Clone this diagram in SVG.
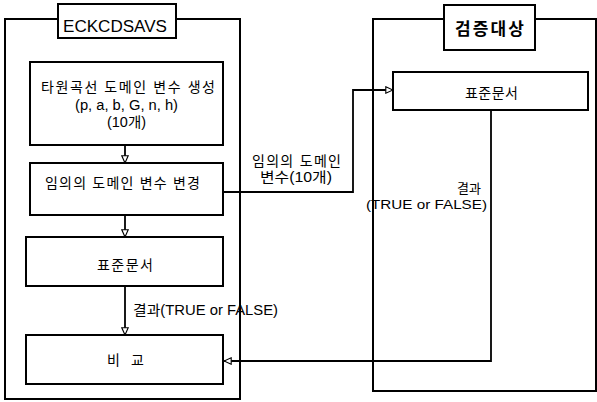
<svg xmlns="http://www.w3.org/2000/svg" width="597" height="402" viewBox="0 0 597 402">
<defs>
<style>
.box{fill:#fff;stroke:#000;stroke-width:2}
.cont{fill:none;stroke:#000;stroke-width:2}
.ln{fill:none;stroke:#000;stroke-width:1.8}
text{font-family:"Liberation Sans","Noto Sans CJK KR",sans-serif;font-size:14px;fill:#000}
.s{font-size:13px}
.t{font-size:16px}
.tb{font-size:17px;font-weight:bold}
</style>
<marker id="arr" viewBox="0 0 10 10" refX="10" refY="5" markerWidth="8" markerHeight="8" markerUnits="userSpaceOnUse" orient="auto">
<path d="M1,1 L10,5 L1,9 Z" fill="#fff" stroke="#000" stroke-width="1.4"/>
</marker>
</defs>
<rect width="597" height="402" fill="#fff"/>
<g id="left-container">
<rect class="cont" x="5" y="19" width="235" height="380"/>
</g>
<g id="right-container">
<rect class="cont" x="373" y="19" width="223" height="372"/>
</g>
<g id="connectors">
<path class="ln" d="M125,145 V163" marker-end="url(#arr)"/>
<path class="ln" d="M125,215 V237" marker-end="url(#arr)"/>
<path class="ln" d="M125,286 V335" marker-end="url(#arr)"/>
<path class="ln" d="M223,192 H353 V90 H393" marker-end="url(#arr)"/>
<path class="ln" d="M491,110 V361 H224" marker-end="url(#arr)"/>
<text x="133" y="315" textLength="145" lengthAdjust="spacingAndGlyphs">결과(TRUE or FALSE)</text>
<text x="252" y="166" textLength="89" lengthAdjust="spacing">임의의 도메인</text>
<text x="260" y="182" textLength="72" lengthAdjust="spacingAndGlyphs">변수(10개)</text>
<text class="s" x="457" y="193" textLength="24" lengthAdjust="spacing">결과</text>
<text class="s" x="366" y="209" textLength="121" lengthAdjust="spacingAndGlyphs">(TRUE or FALSE)</text>
</g>
<g id="title-left">
<rect class="box" x="58" y="4" width="118" height="34"/>
<text class="t" x="63" y="32" textLength="104" lengthAdjust="spacingAndGlyphs">ECKCDSAVS</text>
</g>
<g id="node-generate">
<rect class="box" x="30" y="62" width="193" height="83"/>
<text x="41" y="92" textLength="174" lengthAdjust="spacing">타원곡선 도메인 변수 생성</text>
<text x="75" y="110" textLength="103" lengthAdjust="spacingAndGlyphs">(p, a, b, G, n, h)</text>
<text x="107" y="127" textLength="39" lengthAdjust="spacingAndGlyphs">(10개)</text>
</g>
<g id="node-change">
<rect class="box" x="30" y="163" width="193" height="52"/>
<text x="45" y="188" textLength="155" lengthAdjust="spacing">임의의 도메인 변수 변경</text>
</g>
<g id="node-std-left">
<rect class="box" x="26" y="237" width="197" height="49"/>
<text x="97" y="270" textLength="56" lengthAdjust="spacing">표준문서</text>
</g>
<g id="node-compare">
<rect class="box" x="26" y="335" width="197" height="49"/>
<text x="107" y="365" textLength="37" lengthAdjust="spacing">비 교</text>
</g>
<g id="title-right">
<rect class="box" x="444" y="5" width="91" height="45"/>
<text class="tb" x="455" y="35" textLength="69" lengthAdjust="spacing">검증대상</text>
</g>
<g id="node-std-right">
<rect class="box" x="393" y="72" width="195" height="38"/>
<text x="465" y="98" textLength="53" lengthAdjust="spacing">표준문서</text>
</g>
</svg>
